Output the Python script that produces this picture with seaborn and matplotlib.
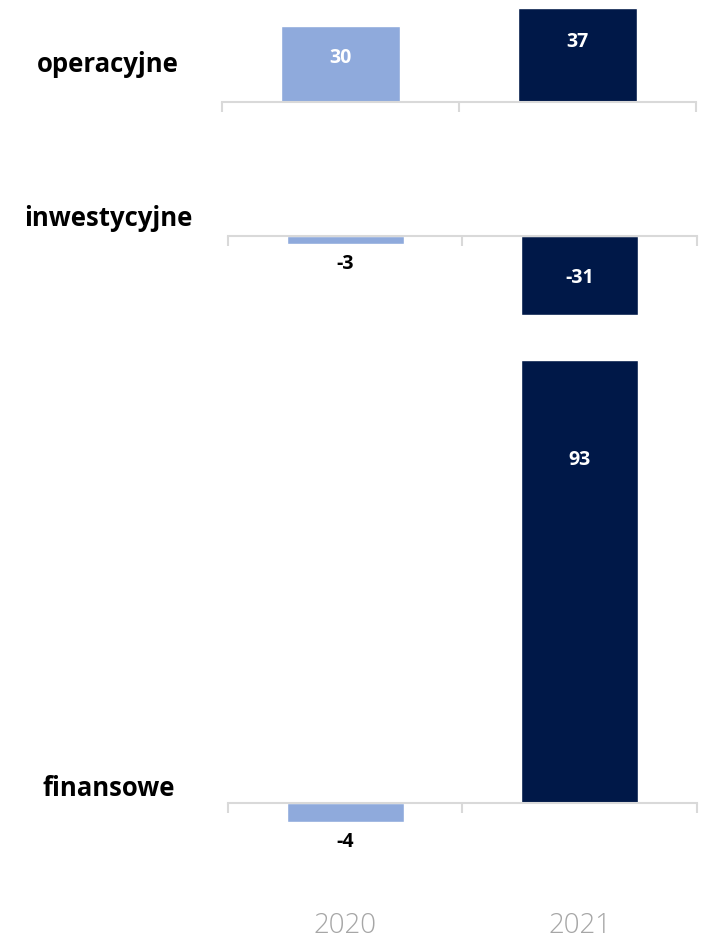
import matplotlib
matplotlib.use('Agg')
import matplotlib.pyplot as plt
import seaborn as sns
import pandas as pd

#   data
categories = ['operacyjne', 'inwestycyjne', 'finansowe']
years = ['2020', '2021']
values_2020 = [30, -3, -4]
values_2021 = [37, -31, 93]

#   style
colors = {'2020': '#8FAADC', '2021': '#001848'}
axis_grey = '#D9D9D9'
sns.set_style('white')
plt.rcParams['font.family'] = ['Open Sans', 'DejaVu Sans']

W, H = 708, 940
fig = plt.figure(figsize=(W / 100, H / 100), dpi=100)

#   panel frames in pixels: x0, x1, y of zero line, pixels per unit
panels = [(222, 696, 102, 2.54), (228, 697, 236, 2.55), (228, 697, 803, 4.763)]
#   label offset from bar end, pixels (positive = up)
label_offsets = [[-32, -34], [-20, 37], [-20, -100]]
#   category label centres in pixels
cat_pos = [(108, 64), (108, 219), (109, 789)]

for i, cat in enumerate(categories):
    x0, x1, zero_y, ppu = panels[i]
    df = pd.DataFrame({'year': years, 'value': [values_2020[i], values_2021[i]]})
    lo = min(0, df['value'].min())
    hi = max(0, df['value'].max())
    top = zero_y - hi * ppu
    bot = zero_y - lo * ppu
    ax = fig.add_axes([x0 / W, 1 - bot / H, (x1 - x0) / W, (bot - top) / H])

    sns.barplot(data=df, x='year', y='value', hue='year', palette=colors,
                width=0.5, legend=False, ax=ax, saturation=1)
    ax.set_xlim(-0.5, 1.5)
    ax.set_ylim(lo, hi)

    for s in ['left', 'right', 'top']:
        ax.spines[s].set_visible(False)
    ax.spines['bottom'].set_position(('data', 0))
    ax.spines['bottom'].set_color(axis_grey)
    ax.spines['bottom'].set_linewidth(1.5)
    ax.set_yticks([])
    ax.set_xticks([-0.5, 0.5, 1.5])
    ax.set_xticklabels([])
    ax.tick_params(axis='x', which='major', direction='out', length=7.5,
                   width=1.5, color=axis_grey, bottom=True)
    ax.set_xlabel('')
    ax.set_ylabel('')

    #   value labels
    for j, v in enumerate(df['value']):
        inside = abs(v) >= 5
        ax.annotate(f'{v}', xy=(j, v), xytext=(0, label_offsets[i][j] * 0.72),
                    textcoords='offset points', ha='center', va='center',
                    fontsize=14, fontweight='bold',
                    color='white' if inside else 'black')

    fig.text(cat_pos[i][0] / W, 1 - cat_pos[i][1] / H, cat, ha='center', va='center',
             fontsize=18.5, fontweight='bold', color='black')

    #   year labels on the last panel
    if i == len(categories) - 1:
        ax.set_xticks([0, 1], minor=True)
        ax.set_xticklabels(years, minor=True, fontsize=20, color='#A6A6A6',
                           fontweight='light')
        ax.tick_params(axis='x', which='minor', length=0, pad=(912 - 803) * 0.72)

fig.savefig('out.png', dpi=100)
